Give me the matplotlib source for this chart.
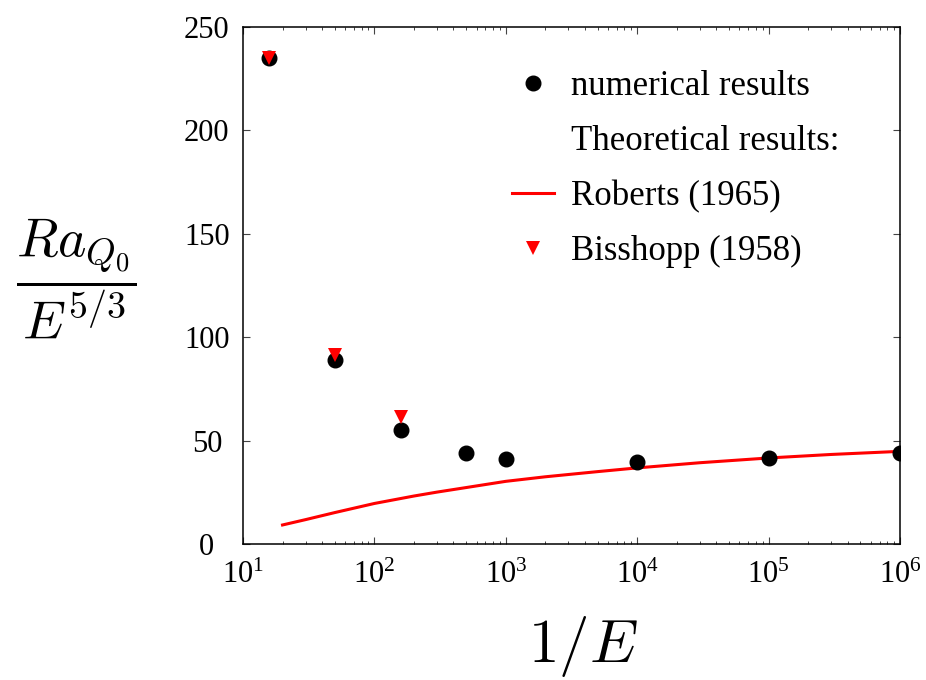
import matplotlib

matplotlib.use("Agg")
import matplotlib.pyplot as plt

# numerical results
inv_e_num = [15.85, 50, 158.5, 500, 1000, 1e4, 1e5, 1e6]
ra_num = [235.1, 88.9, 55.3, 44.0, 41.0, 39.5, 41.5, 44.0]

# Bisshopp (1958)
inv_e_bis = [15.85, 50, 158.5]
ra_bis = [235.0, 91.6, 61.6]

# Roberts (1965)
inv_e_rob = [20, 30, 50, 100, 200, 300, 500, 1000, 2000, 5000, 1e4, 3e4, 1e5, 3e5, 1e6]
ra_rob = [9.2, 11.8, 15.2, 19.6, 23.2, 25.1, 27.3, 30.3, 32.5, 35.0, 36.8, 39.3, 41.6, 43.3, 44.8]

plt.rcParams["font.family"] = ["Liberation Serif", "DejaVu Serif"]
plt.rcParams["mathtext.fontset"] = "cm"

fig = plt.figure(figsize=(9.26, 6.8), dpi=100)
ax = fig.add_axes([0.2624, 0.2, 0.7095, 0.7603])

ax.plot(inv_e_rob, ra_rob, color="red", linewidth=2.2, label="Roberts (1965)", zorder=2)
ax.plot(inv_e_num, ra_num, "o", color="black", markersize=10.5,
        label="numerical results", zorder=3)
ax.plot(inv_e_bis, ra_bis, "v", color="red", markersize=10,
        markeredgewidth=0, label="Bisshopp (1958)", zorder=4)
ax.plot([], [], " ", label="Theoretical results:")

ax.set_xscale("log")
ax.set_xlim(10, 1e6)
ax.set_ylim(0, 250)
ax.set_yticks([0, 50, 100, 150, 200, 250])

for spine in ax.spines.values():
    spine.set_linewidth(1.1)

ax.tick_params(which="both", direction="in", top=True, right=True,
               labelsize=22, color="#444444")
ax.tick_params(which="major", length=5, width=0.8)
ax.tick_params(which="minor", length=2.5, width=0.7)
ax.tick_params(axis="y", pad=26)
ax.tick_params(axis="x", pad=12)
for label in ax.get_yticklabels():
    label.set_horizontalalignment("center")

ax.set_xlabel(r"$1/E$", fontsize=44)
ax.xaxis.set_label_coords(0.5175, -0.135)
ax.set_ylabel(r"$\dfrac{Ra_{Q_0}}{E^{5/3}}$", fontsize=39, rotation=0,
              va="center", ha="center")
ax.yaxis.set_label_coords(-0.254, 0.515)

handles, labels = ax.get_legend_handles_labels()
order = [1, 3, 0, 2]
ax.legend([handles[i] for i in order], [labels[i] for i in order],
          loc="upper left", bbox_to_anchor=(0.41, 0.917), frameon=False,
          fontsize=25, handlelength=1.2, handletextpad=0.5,
          labelspacing=0.63, borderpad=0, borderaxespad=0, numpoints=1)

fig.savefig("out.png", dpi=100)
plt.close(fig)
